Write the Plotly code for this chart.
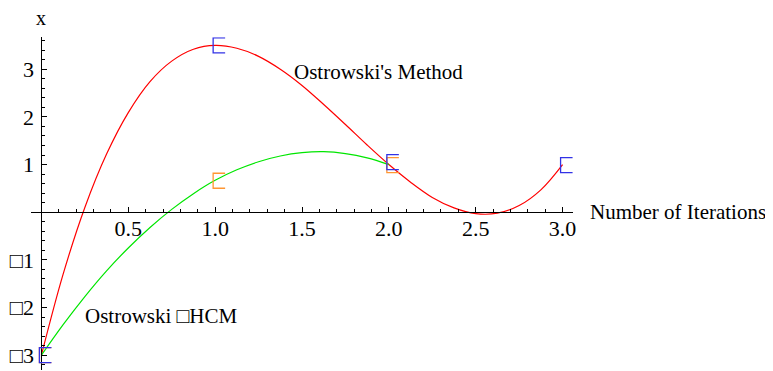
import plotly.graph_objects as go

# ---- data ----
iter_x = [0.0, 0.125, 0.25, 0.375, 0.5, 0.625, 0.75, 0.875, 1.0, 1.125, 1.25, 1.375,
          1.5, 1.625, 1.75, 1.875, 2.0, 2.125, 2.25, 2.375, 2.5, 2.625, 2.75, 2.875, 3.0]
ostrowski_y = [-3.0, -1.30, 0.10, 1.22, 2.09, 2.74, 3.17, 3.42, 3.50, 3.44, 3.27, 3.00,
               2.66, 2.26, 1.84, 1.41, 1.00, 0.63, 0.31, 0.09, -0.03, -0.02, 0.14, 0.47, 1.00]
hcm_x = [0.0, 0.125, 0.25, 0.375, 0.5, 0.625, 0.75, 0.875, 1.0, 1.125, 1.25, 1.375,
         1.5, 1.625, 1.75, 1.875, 2.0]
hcm_y = [-3.0, -2.36, -1.77, -1.23, -0.75, -0.32, 0.06, 0.39, 0.67, 0.89, 1.06, 1.18,
         1.25, 1.27, 1.23, 1.14, 1.00]

blue_pts_x = [0, 1, 2, 3]
blue_pts_y = [-3.0, 3.5, 1.05, 0.99]
orange_pts_x = [0, 1, 2]
orange_pts_y = [-3.0, 0.66, 0.99]

x_tickvals = [0.5, 1.0, 1.5, 2.0, 2.5, 3.0]
x_ticktext = ["0.5", "1.0", "1.5", "2.0", "2.5", "3.0"]
y_tickvals = [-3, -2, -1, 1, 2, 3]
y_ticktext = ["\u25a13", "\u25a12", "\u25a11", "1", "2", "3"]

# ---- layout geometry (page body has an 8px margin) ----
OFF = 8
W, H = 773 - OFF, 371 - OFF
xr = [-0.06, 3.06]
yr = [-3.3, 3.67]
xd = [(31 - OFF) / W, (573 - OFF) / W]
yd = [(H - (369.5 - OFF)) / H, (H - (37.3 - OFF)) / H]
xaxis_pos = yd[0] + (0 - yr[0]) / (yr[1] - yr[0]) * (yd[1] - yd[0])
yaxis_pos = xd[0] + (0 - xr[0]) / (xr[1] - xr[0]) * (xd[1] - xd[0])


def px(x):
    return xd[0] + (x - xr[0]) / (xr[1] - xr[0]) * (xd[1] - xd[0])


def py(y):
    return yd[0] + (y - yr[0]) / (yr[1] - yr[0]) * (yd[1] - yd[0])


FONT = "Liberation Serif, Times New Roman, serif"
fig = go.Figure()
fig.add_trace(go.Scatter(x=iter_x, y=ostrowski_y, mode="lines", line=dict(color="#ff0000", width=1.2, shape="spline"),
                         cliponaxis=False, showlegend=False, hoverinfo="skip"))
fig.add_trace(go.Scatter(x=hcm_x, y=hcm_y, mode="lines", line=dict(color="#00e600", width=1.2, shape="spline"),
                         cliponaxis=False, showlegend=False, hoverinfo="skip"))

bracket = "M 10,-7.5 L -2,-7.5 L -2,7.5 L 10,7.5"
for bx, by in zip(orange_pts_x, orange_pts_y):
    fig.add_shape(type="path", xref="x", yref="y", xsizemode="pixel", ysizemode="pixel",
                  xanchor=bx, yanchor=by, path=bracket, line=dict(color="rgb(255,150,50)", width=1.3))
for bx, by in zip(blue_pts_x, blue_pts_y):
    fig.add_shape(type="path", xref="x", yref="y", xsizemode="pixel", ysizemode="pixel",
                  xanchor=bx, yanchor=by, path=bracket, line=dict(color="rgb(50,50,230)", width=1.3))

ann_font = dict(family=FONT, size=21, color="black")
fig.add_annotation(x=px(3.15), y=py(0), xref="paper", yref="paper", text="Number of Iterations", showarrow=False,
                   xanchor="left", yanchor="middle", font=dict(family=FONT, size=21, color="black"), borderpad=0)
fig.add_annotation(x=px(0), y=1.0, xref="paper", yref="paper", text="x", showarrow=False,
                   xanchor="center", yanchor="top", yshift=2, borderpad=0,
                   font=dict(family=FONT, size=20, color="black"))
fig.add_annotation(x=px(1.445), y=py(2.94), xref="paper", yref="paper", text="Ostrowski's Method", showarrow=False,
                   xanchor="left", yanchor="middle", font=ann_font)
fig.add_annotation(x=px(0.24), y=py(-2.17), xref="paper", yref="paper", text="Ostrowski \u25a1HCM", showarrow=False,
                   xanchor="left", yanchor="middle", font=ann_font)

fig.update_layout(
    width=W, height=H, autosize=False,
    margin=dict(l=0, r=0, t=0, b=0),
    paper_bgcolor="white", plot_bgcolor="white",
    xaxis=dict(range=xr, domain=xd, anchor="free", position=xaxis_pos,
               showline=True, linecolor="black", linewidth=1,
               showgrid=False, zeroline=False, automargin=False,
               tickmode="array", tickvals=x_tickvals, ticktext=x_ticktext,
               ticks="inside", ticklen=5, tickcolor="black", tickwidth=1,
               minor=dict(dtick=0.1, tick0=0, ticks="inside", ticklen=3, tickcolor="black"),
               tickfont=dict(family=FONT, size=22, color="black"), ticklabelstandoff=-4),
    yaxis=dict(range=yr, domain=yd, anchor="free", position=yaxis_pos,
               showline=True, linecolor="black", linewidth=1,
               showgrid=False, zeroline=False, automargin=False,
               tickmode="array", tickvals=y_tickvals, ticktext=y_ticktext,
               ticks="inside", ticklen=5, tickcolor="black", tickwidth=1,
               minor=dict(dtick=0.2, tick0=0, ticks="inside", ticklen=3, tickcolor="black"),
               tickfont=dict(family=FONT, size=22, color="black"), ticklabelstandoff=3),
)
fig.write_html("out.html")
